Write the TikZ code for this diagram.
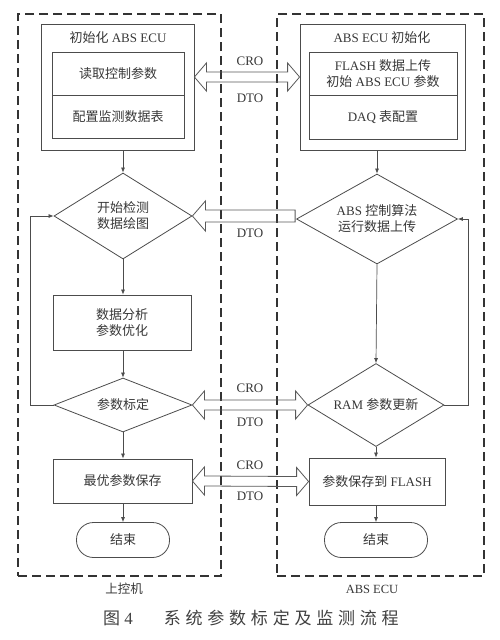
\documentclass[tikz,border=0pt]{standalone}
\usepackage{fontspec}
\setmainfont{Liberation Serif}
\newfontfamily\cjk{Noto Sans CJK SC}
\usetikzlibrary{shapes.geometric,arrows.meta,calc}
\newcommand\zh[1]{{\cjk #1}}
\newcommand\hollowdbl[2]{\draw[hollowar] (#1) -- ++(12,-14) -- ++(0,9) -- ($(#2)+(-12,-5)$) -- ++(0,-9) -- (#2) -- ++(-12,14) -- ++(0,-9) -- ($(#1)+(12,5)$) -- ++(0,9) -- cycle;}
\begin{document}
\begin{tikzpicture}[x=1pt,y=-1pt,
  font=\fontsize{13}{16}\selectfont, text=black!78,
  box/.style={draw=black!70, line width=0.8pt, inner sep=0pt, align=center},
  dia/.style={diamond, draw=black!70, line width=0.8pt, inner sep=0pt, aspect=1.6, align=center},
  term/.style={draw=black!70, line width=0.8pt, inner sep=0pt, rounded corners=17pt, minimum height=35},
  flow/.style={draw=black!70, line width=0.7pt, -{Latex[length=5pt,width=4pt]}},
  hollowar/.style={draw=black!65, line width=0.8pt, line join=miter},
  outerbox/.style={draw=black!80, line width=2.4pt, dash pattern=on 9pt off 5pt},
  lab/.style={inner sep=0pt}]
\useasboundingbox (0,0) rectangle (500,640);
\fill[white] (0,0) rectangle (500,640);

% swimlanes
\node[outerbox, minimum width=203, minimum height=562] (L) at (119.5,295) {};
\node[outerbox, minimum width=207, minimum height=562] (R) at (380.5,295) {};
\node[lab, font=\fontsize{12.5}{14}\selectfont] (Llab) at (124,589) {\zh{上控机}};
\node[lab, font=\fontsize{12.5}{14}\selectfont] (Rlab) at (372,589) {ABS ECU};

% left column
\node[box, minimum width=153, minimum height=126] (lout) at (117.5,87) {};
\node[lab] (ltitle) at (118,38) {\zh{初始化} ABS ECU};
\node[box, minimum width=132, minimum height=43] (lin1) at (118,73.5) {\zh{读取控制参数}};
\node[box, minimum width=132, minimum height=43] (lin2) at (118,116.5) {\zh{配置监测数据表}};
\node[dia, minimum width=138, minimum height=86] (d1) at (123,216) {\zh{开始检测}\\\zh{数据绘图}};
\node[box, minimum width=138, minimum height=55] (b1) at (122,322.5) {\zh{数据分析}\\\zh{参数优化}};
\node[dia, minimum width=138, minimum height=54] (d2) at (123,405) {\zh{参数标定}};
\node[box, minimum width=139, minimum height=44] (b2) at (122.5,481) {\zh{最优参数保存}};
\node[term, minimum width=93] (t1) at (123,540) {\zh{结束}};

% right column
\node[box, minimum width=165, minimum height=126] (rout) at (382.5,87) {};
\node[lab] (rtitle) at (382,38) {ABS ECU \zh{初始化}};
\node[box, minimum width=148, minimum height=43] (rin1) at (383,73.5) {FLASH \zh{数据上传}\\\zh{初始} ABS ECU \zh{参数}};
\node[box, minimum width=148, minimum height=44] (rin2) at (383,117) {DAQ \zh{表配置}};
\node[dia, minimum width=161, minimum height=90] (d3) at (377,219) {ABS \zh{控制算法}\\\zh{运行数据上传}};
\node[dia, minimum width=136, minimum height=83] (d4) at (376,405) {RAM \zh{参数更新}};
\node[box, minimum width=136, minimum height=47] (b3) at (377,481.5) {\zh{参数保存到} FLASH};
\node[term, minimum width=103] (t2) at (376,540) {\zh{结束}};

% flow arrows left
\draw[flow] (lout.south -| d1.north) -- (d1.north);
\draw[flow] (d1.south) -- (b1.north -| d1.south);
\draw[flow] (b1.south -| d2.north) -- (d2.north);
\draw[flow] (d2.south) -- (b2.north -| d2.south);
\draw[flow] (b2.south -| t1.north) -- (t1.north);
\draw[flow] (d2.west) -- ++(-23,0) |- (d1.west);

% flow arrows right
\draw[flow] (rout.south -| d3.north) -- (d3.north);
\draw[flow] (d3.south) -- (d4.north);
\draw[flow] (d4.south) -- (b3.north -| d4.south);
\draw[flow] (b3.south -| t2.north) -- (t2.north);
\draw[flow] (d4.east) -- ++(24,0) |- (d3.east);

% communication arrows
\path (lout.east) ++(0,-10) coordinate (a1l);
\path (rout.west) ++(0,-10) coordinate (a1r);
\hollowdbl{a1l}{a1r}
\draw[hollowar] (d1.east) -- ++(13,-15) -- ++(0,9) -- ($(d1.east -| d3.west)+(-1,-6)$) -- ++(0,12) -- ($(d1.east)+(13,6)$) -- ++(0,9) -- cycle;
\hollowdbl{d2.east}{d4.west}
\hollowdbl{b2.east}{b3.west}

\node[lab] (c1) at (250,61) {CRO};
\node[lab] (m1) at (250,98) {DTO};
\node[lab] (m2) at (250,233) {DTO};
\node[lab] (c3) at (250,388) {CRO};
\node[lab] (m3) at (250,422) {DTO};
\node[lab] (c4) at (250,465) {CRO};
\node[lab] (m4) at (250,496) {DTO};

% caption
\node[lab, anchor=west, font=\fontsize{17}{19}\selectfont, text=black!75] (cap) at (103,618) {\zh{图} 4\hspace{31pt}{\cjk\addfontfeature{LetterSpace=28}系统参数标定及监测流程}};
\end{tikzpicture}
\end{document}
